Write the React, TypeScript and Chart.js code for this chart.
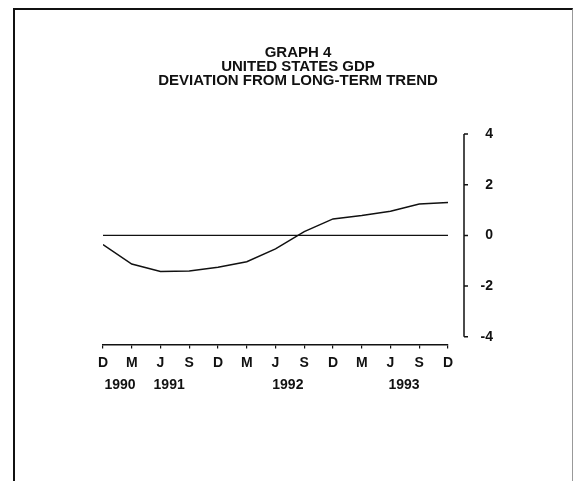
import React, { useEffect, useRef } from "react";
import { Chart, registerables } from "chart.js";

Chart.register(...registerables);

const titleLines = ["GRAPH 4", "UNITED STATES GDP", "DEVIATION FROM LONG-TERM TREND"];
const monthLabels = ["D", "M", "J", "S", "D", "M", "J", "S", "D", "M", "J", "S", "D"];
const quarterIndex = [0, 1, 2, 3, 4, 5, 6, 7, 8, 9, 10, 11, 12];
const gdpDeviation = [-0.36, -1.13, -1.42, -1.4, -1.26, -1.04, -0.53, 0.15, 0.65, 0.78, 0.95, 1.24, 1.3];
const trendBaseline = [0, 0, 0, 0, 0, 0, 0, 0, 0, 0, 0, 0, 0];
const yearLabels = ["1990", "1991", "1992", "1993"];
const yearPositions = [0.59, 2.3, 6.43, 10.47];
const yTickValues = [-4, -2, 0, 2, 4];

const INK = "#111111";
const FONT_FAMILY = "'Liberation Sans', Arial, Helvetica, sans-serif";

const sideAxisPlugin = {
  id: "sideAxis",
  afterDraw(chart: any) {
    const { ctx, chartArea, scales } = chart;
    const ys = scales.y;
    const x = chartArea.right + 16;
    const top = ys.getPixelForValue(yTickValues[yTickValues.length - 1]);
    const bottom = ys.getPixelForValue(yTickValues[0]);
    ctx.save();
    ctx.strokeStyle = INK;
    ctx.lineWidth = 1.5;
    ctx.beginPath();
    ctx.moveTo(x, top);
    ctx.lineTo(x, bottom);
    for (const v of yTickValues) {
      const py = ys.getPixelForValue(v);
      ctx.moveTo(x, py);
      ctx.lineTo(x + 4, py);
    }
    ctx.stroke();
    ctx.restore();
  },
};

export default function App() {
  const canvasRef = useRef<HTMLCanvasElement | null>(null);

  useEffect(() => {
    const canvas = canvasRef.current;
    if (!canvas) return;
    const chart = new Chart(canvas, {
      type: "line",
      data: {
        datasets: [
          {
            data: quarterIndex.map((x, i) => ({ x, y: gdpDeviation[i] })),
            borderColor: INK,
            borderWidth: 1.5,
            pointRadius: 0,
            tension: 0,
            fill: false,
          },
          {
            data: quarterIndex.map((x, i) => ({ x, y: trendBaseline[i] })),
            borderColor: INK,
            borderWidth: 1.2,
            pointRadius: 0,
            tension: 0,
            fill: false,
          },
        ],
      },
      options: {
        responsive: false,
        animation: false,
        events: [],
        layout: { padding: { left: 103, right: 81, top: 0, bottom: 87 } },
        plugins: {
          legend: { display: false },
          tooltip: { enabled: false },
          title: {
            display: true,
            text: titleLines,
            color: INK,
            font: { family: FONT_FAMILY, size: 15, weight: "bold", lineHeight: 0.933 },
            padding: { top: 46, bottom: 46 },
          },
        },
        scales: {
          x: {
            type: "linear",
            position: "bottom",
            min: quarterIndex[0],
            max: quarterIndex[quarterIndex.length - 1],
            afterBuildTicks: (axis: any) => {
              axis.ticks = quarterIndex.map((v) => ({ value: v }));
            },
            ticks: {
              autoSkip: false,
              maxRotation: 0,
              padding: 6,
              color: INK,
              font: { family: FONT_FAMILY, size: 14, weight: "bold" },
              callback: (v: any) => monthLabels[Math.round(Number(v))] ?? "",
            },
            grid: {
              display: true,
              drawOnChartArea: false,
              drawTicks: true,
              tickLength: 4,
              color: INK,
              lineWidth: 1.2,
            },
            border: { display: true, color: INK, width: 1.5 },
          },
          x2: {
            type: "linear",
            position: "bottom",
            min: quarterIndex[0],
            max: quarterIndex[quarterIndex.length - 1],
            afterBuildTicks: (axis: any) => {
              axis.ticks = yearPositions.map((v) => ({ value: v }));
            },
            ticks: {
              autoSkip: false,
              maxRotation: 0,
              padding: 0,
              color: INK,
              font: { family: FONT_FAMILY, size: 14, weight: "bold" },
              callback: (_v: any, i: number) => yearLabels[i] ?? "",
            },
            grid: { display: false, drawTicks: false },
            border: { display: false },
          },
          y: {
            type: "linear",
            position: "right",
            min: -4.3,
            max: 4,
            afterBuildTicks: (axis: any) => {
              axis.ticks = yTickValues.map((v) => ({ value: v }));
            },
            afterFit: (axis: any) => {
              axis.width = 45;
            },
            ticks: {
              padding: 29,
              crossAlign: "far",
              color: INK,
              font: { family: FONT_FAMILY, size: 14, weight: "bold" },
              callback: (v: any) => String(v),
            },
            grid: { display: false, drawTicks: false },
            border: { display: false },
          },
        },
      },
      plugins: [sideAxisPlugin],
    } as any);
    return () => chart.destroy();
  }, []);

  return (
    <div style={{ position: "absolute", left: 0, top: 0, width: 574, height: 481, background: "#fff" }}>
      <div
        style={{
          position: "absolute",
          left: 13,
          top: 8,
          width: 560,
          height: 473,
          boxSizing: "border-box",
          borderLeft: "2px solid #111",
          borderTop: "2px solid #111",
          borderRight: "1px solid #999",
        }}
      />
      <canvas
        ref={canvasRef}
        width={574}
        height={481}
        style={{ position: "absolute", left: 0, top: 0, display: "block" }}
      />
    </div>
  );
}
